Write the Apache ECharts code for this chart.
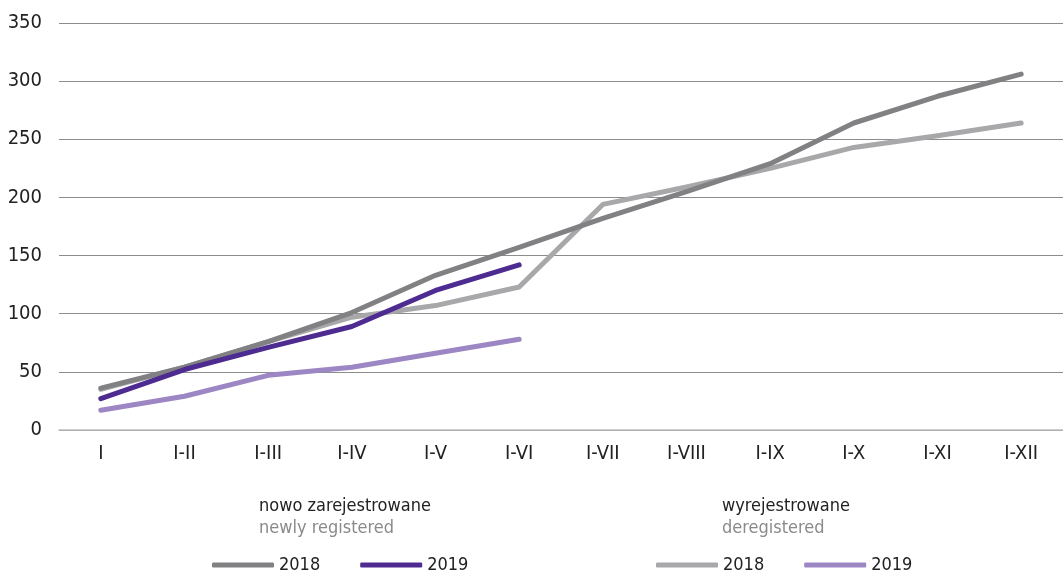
<!DOCTYPE html>
<html>
<head>
<meta charset="utf-8">
<script src="https://cdn.jsdelivr.net/npm/echarts@6/dist/echarts.min.js"></script>
<style>
  html, body { margin: 0; padding: 0; background: #fff; }
  #chart { width: 1063px; height: 570px; }
</style>
</head>
<body>
<div id="chart"></div>
<script>
var months = ['I', 'I-II', 'I-III', 'I-IV', 'I-V', 'I-VI', 'I-VII', 'I-VIII', 'I-IX', 'I-X', 'I-XI', 'I-XII'];
var newly2018 = [36, 54, 76, 101, 133, 157, 182, 205, 229, 264, 287, 306];
var newly2019 = [27, 52, 71, 89, 120, 142];
var dereg2018 = [35, 54, 76, 97, 107, 123, 194, 209, 225, 243, 253, 264];
var dereg2019 = [17, 29, 47, 54, 66, 78];

var font = '"DejaVu Sans Condensed", "Roboto", sans-serif';

function line(name, data, color, z) {
    return {
        name: name,
        type: 'line',
        data: data,
        symbol: 'none',
        z: z,
        lineStyle: { color: color, width: 5, cap: 'round', join: 'round' },
        itemStyle: { color: color }
    };
}

var chart = echarts.init(document.getElementById('chart'));
var option = {
    animation: false,
    textStyle: { fontFamily: font },
    grid: { left: 59, right: -2, top: 23, bottom: 140 },
    title: [{
        text: 'nowo zarejestrowane',
        subtext: 'newly registered',
        left: 254, top: 492, itemGap: 4,
        textStyle: { fontFamily: font, fontSize: 18, fontWeight: 'normal', color: '#222' },
        subtextStyle: { fontFamily: font, fontSize: 18, color: '#8a8a8a' }
    }, {
        text: 'wyrejestrowane',
        subtext: 'deregistered',
        left: 717, top: 492, itemGap: 4,
        textStyle: { fontFamily: font, fontSize: 18, fontWeight: 'normal', color: '#222' },
        subtextStyle: { fontFamily: font, fontSize: 18, color: '#8a8a8a' }
    }],
    legend: [{
        data: ['n2018', 'n2019'],
        left: 207, top: 551, itemWidth: 62, itemHeight: 5, itemGap: 40,
        icon: 'roundRect',
        formatter: function (n) { return n.slice(1); },
        textStyle: { fontFamily: font, fontSize: 18, color: '#222' }
    }, {
        data: ['d2018', 'd2019'],
        left: 651, top: 551, itemWidth: 62, itemHeight: 5, itemGap: 40,
        icon: 'roundRect',
        formatter: function (n) { return n.slice(1); },
        textStyle: { fontFamily: font, fontSize: 18, color: '#222' }
    }],
    xAxis: {
        type: 'category',
        data: months,
        axisLine: { lineStyle: { color: '#bdbdbd', width: 1.5 } },
        axisTick: { length: 10, lineStyle: { color: '#9a9a9a' } },
        axisLabel: { fontFamily: font, fontSize: 20, color: '#222', margin: 14 }
    },
    yAxis: {
        type: 'value',
        min: 0, max: 350, interval: 50,
        axisLine: { show: false },
        axisTick: { show: false },
        axisLabel: { fontFamily: font, fontSize: 20, color: '#222', margin: 17 },
        splitLine: { lineStyle: { color: '#8c8c8c', width: 1 } }
    },
    series: [
        line('d2018', dereg2018, '#a8a8aa', 2),
        line('n2018', newly2018, '#818184', 3),
        line('d2019', dereg2019, '#9c86c3', 4),
        line('n2019', newly2019, '#4e2b91', 5)
    ]
};
chart.setOption(option);
</script>
</body>
</html>
